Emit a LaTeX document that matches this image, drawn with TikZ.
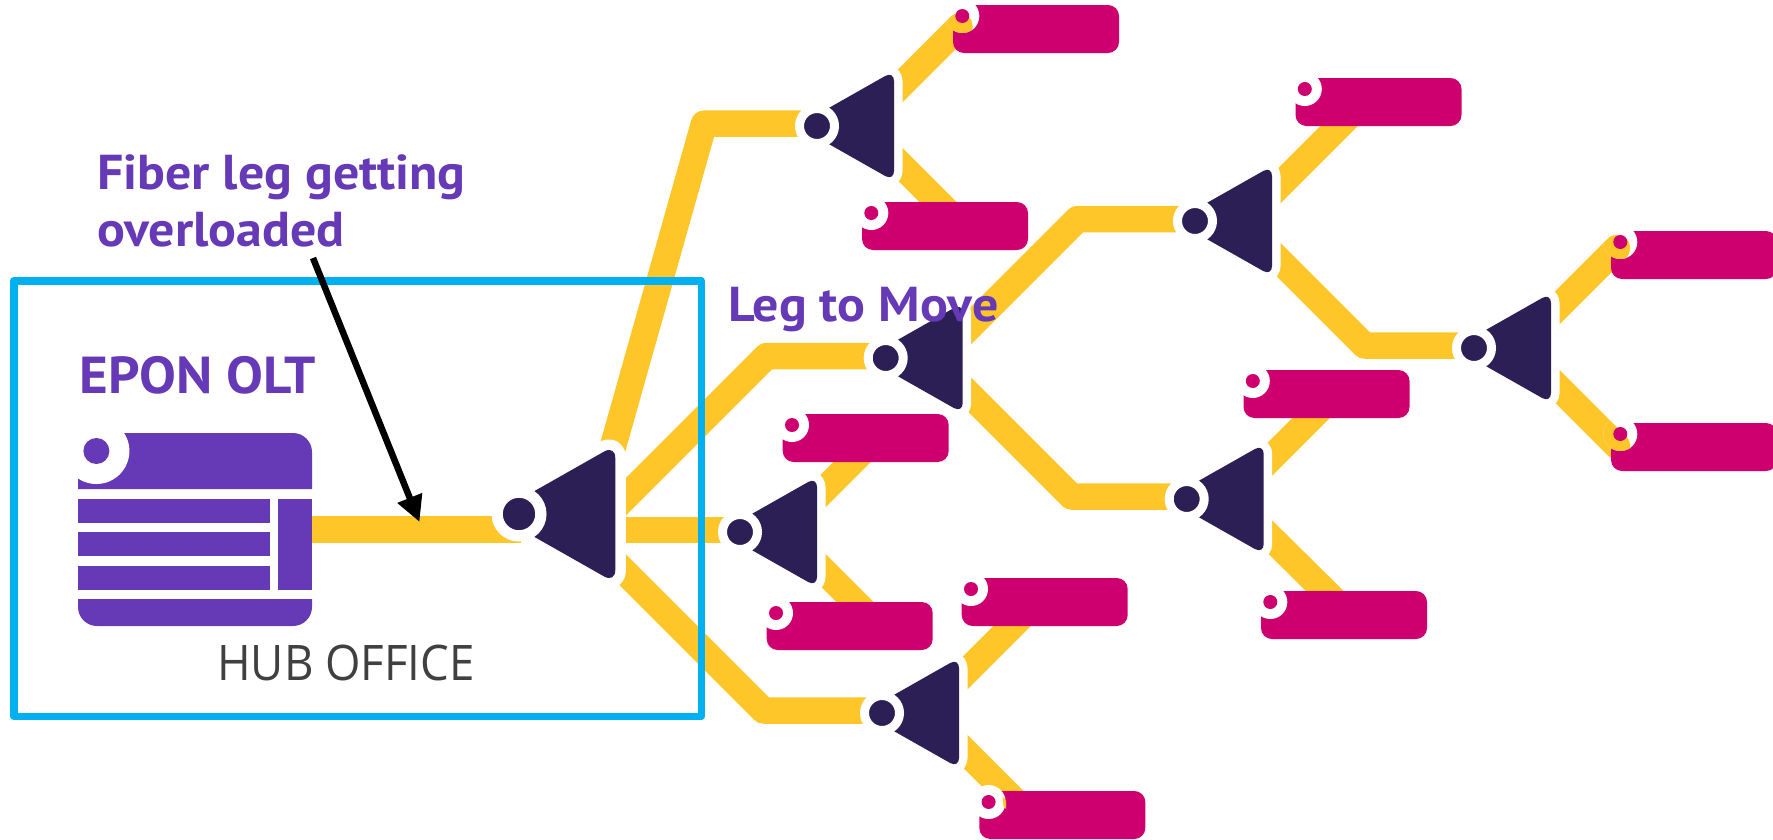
\documentclass[tikz,border=0pt]{standalone}
\usepackage{fontspec}
\usetikzlibrary{arrows.meta,backgrounds}
\setmainfont{PT Sans}
\newfontfamily\labelfont[FakeStretch=1.06]{PT Sans}
\newfontfamily\hubfont[FakeStretch=0.93]{Open Sans}
\definecolor{fiberc}{HTML}{FFC629}
\definecolor{darkc}{HTML}{2C1F56}
\definecolor{pinkc}{HTML}{CE0070}
\definecolor{purpc}{HTML}{6639B7}
\definecolor{bluec}{HTML}{00B0F0}
\definecolor{greyc}{HTML}{404040}
\tikzset{
  fiber/.style={draw=fiberc,line width=26.5pt,line join=round,line cap=round},
  oltbar/.style={fill=purpc},
  purplabel/.style={inner sep=0pt,outer sep=0pt,anchor=base west,text=purpc,font=\labelfont\bfseries\fontsize{49}{49}\selectfont},
  onticon/.style={fill=pinkc,rounded corners=11pt,minimum width=166pt,minimum height=48pt,inner sep=0pt,outer sep=0pt,anchor=north west},
  ontring/.style={circle,fill=white,minimum size=34pt,inner sep=0pt,outer sep=0pt},
  ontdot/.style={circle,fill=pinkc,minimum size=14pt,inner sep=0pt,outer sep=0pt},
}
% name, x, y, scale
\newcommand{\splitter}[4]{%
  \begin{scope}[shift={(#2,#3)},scale=#4]
    \draw[white,line width=#4*17pt,line join=round,rounded corners=#4*10pt] (0,-11.3) -- (77,-55) -- (77,55) -- (0,11.3) -- cycle;
    \fill[darkc,rounded corners=#4*10pt] (-20,0) -- (77,-55) -- (77,55) -- cycle;
    \node[circle,fill=darkc,draw=white,line width=#4*9pt,minimum size=#4*35pt,inner sep=0pt] (#1) at (0,0) {};
  \end{scope}}
% name, x, y, material drawn between ring and dot
\newcommand{\ont}[4]{%
  \node[onticon] (#1) at (#2,#3) {};
  \node[ontring] (#1r) at (#2+9.3,#3+11) {};
  #4
  \node[ontdot] (#1d) at (#1r.center) {};}
\newcommand{\fiberend}[4]{% ring centre x,y ; from ; to
  \begin{scope}\clip (#1,#2) circle (17);\draw[fiber] (#3) -- (#4);\end{scope}}
\begin{document}
\begin{tikzpicture}[x=1pt,y=-1pt]
\useasboundingbox (0,0) rectangle (1773,839);
% connector way-points
\coordinate (oltport) at (312,529.5);
\coordinate (s0in) at (521,529.5);
\coordinate (s0a) at (600.7,490);
\coordinate (s1b) at (704,123.7);
\coordinate (s0b) at (610,512.5);
\coordinate (s2b) at (766.5,356);
\coordinate (s0c) at (600,530);
\coordinate (s0d) at (600,547);
\coordinate (s4b) at (763.5,710.5);
\coordinate (s1u) at (880,106);
\coordinate (s1d) at (880,144);
\coordinate (aend) at (959.5,26.5);
\coordinate (bend) at (960,224);
\coordinate (s2u) at (950,346.5);
\coordinate (s5b) at (1077.5,219);
\coordinate (s2d) at (950,375);
\coordinate (s6b) at (1071.5,496.5);
\coordinate (s3u) at (805,509);
\coordinate (s3d) at (800,547);
\coordinate (hend) at (860,454);
\coordinate (iend) at (880,627);
\coordinate (s4u) at (950,688);
\coordinate (s4d) at (945,731);
\coordinate (jend) at (1020,618);
\coordinate (kend) at (1020,806);
\coordinate (s5u) at (1265,200);
\coordinate (s5d) at (1260,241);
\coordinate (cend) at (1355,110);
\coordinate (s7b) at (1364.5,345.5);
\coordinate (s6u) at (1250,479);
\coordinate (s6d) at (1250,517);
\coordinate (fend) at (1330,399);
\coordinate (gend) at (1340,606);
\coordinate (s7u) at (1540,325);
\coordinate (s7d) at (1540,369);
\coordinate (dend) at (1617,248);
\coordinate (eend) at (1617,446);
% OLT
\fill[oltbar] (78,489) -- (78,433) [rounded corners=19pt] -- (312,433) [sharp corners] -- (312,489) -- cycle;
\fill[oltbar] (78,499) rectangle (269.5,523);
\fill[oltbar] (78,532) rectangle (269.5,556);
\fill[oltbar] (78,566) rectangle (269.5,590);
\fill[oltbar] (278,499) rectangle (312,590);
\fill[oltbar] (78,599) [rounded corners=19pt] -- (78,626) -- (312,626) [sharp corners] -- (312,599) -- cycle;
\node[circle,fill=white,minimum size=66pt,inner sep=0pt,outer sep=0pt] (oltring) at (96.4,451) {};
\node[circle,fill=purpc,minimum size=26pt,inner sep=0pt,outer sep=0pt] (oltdot) at (oltring.center) {};
% ONTs
\ont{a}{953}{5}{\fiberend{962.3}{16}{s1u}{aend}}
\ont{b}{862}{202}{}
\ont{c}{1295.5}{78}{}
\ont{d}{1611}{231}{\fiberend{1620.3}{242}{s7u}{dend}}
\ont{e}{1611}{423}{\fiberend{1620.3}{434}{s7d}{eend}}
\ont{f}{1243.5}{370}{}
\ont{g}{1261}{591}{}
\ont{h}{782.7}{414}{}
\ont{i}{766.7}{602}{}
\ont{j}{961.7}{578}{}
\ont{k}{979.3}{791}{\fill[fiberc] (1002.5,796) -- (1006,801) -- (1006,809) -- (1003.5,806) -- cycle;}
% splitters
\splitter{s0}{519}{514}{1.25}
\splitter{s1}{817}{126}{1}
\splitter{s2}{885.7}{358}{1}
\splitter{s3}{740}{532}{1}
\splitter{s4}{882}{713}{1}
\splitter{s5}{1195}{221}{1}
\splitter{s6}{1186.7}{499}{1}
\splitter{s7}{1474}{348}{1}
\begin{pgfonlayer}{background}
  \draw[fiber,line cap=butt] (oltport) -- (s0in);
  \draw[fiber] (s0a) -- (s1b) -- (s1b -| s1);
  \draw[fiber] (s0b) -- (s2b) -- (s2b -| s2);
  \draw[fiber] (s0c) -- (s0c -| s3);
  \draw[fiber] (s0d) -- (s4b) -- (s4b -| s4);
  \draw[fiber] (s1u) -- (aend);
  \draw[fiber] (s1d) -- (bend);
  \draw[fiber] (s2u) -- (s5b) -- (s5b -| s5);
  \draw[fiber] (s2d) -- (s6b) -- (s6b -| s6);
  \draw[fiber] (s3u) -- (hend);
  \draw[fiber] (s3d) -- (iend);
  \draw[fiber] (s4u) -- (jend);
  \draw[fiber] (s4d) -- (kend);
  \draw[fiber] (s5u) -- (cend);
  \draw[fiber] (s5d) -- (s7b) -- (s7b -| s7);
  \draw[fiber] (s6u) -- (fend);
  \draw[fiber] (s6d) -- (gend);
  \draw[fiber] (s7u) -- (dend);
  \draw[fiber] (s7d) -- (eend);
  \node[draw=bluec,line width=7.5pt,line join=round,minimum width=687.5pt,minimum height=435.5pt,inner sep=0pt] (hub) at (357.5,498.5) {};
\end{pgfonlayer}
% labels
\node[purplabel] (l1) at (97,189) {Fiber leg getting};
\node[purplabel] (l2) at (97,246.5) {overloaded};
\node[purplabel] (l3) at (728,321) {Leg to Move};
\node[purplabel,font=\labelfont\bfseries\fontsize{52}{52}\selectfont] (l4) at (79.5,393) {EPON OLT};
\node[inner sep=0pt,outer sep=0pt,anchor=base,text=greyc,font=\hubfont\fontsize{49}{49}\selectfont] (l5) at (346,680) {HUB OFFICE};
% arrow
\coordinate (atail) at (313,258);
\coordinate (atip) at (419.5,522);
\draw[black,line width=6.5pt,-{Triangle[length=26pt,width=25pt]}] (atail) -- (atip);
\end{tikzpicture}
\end{document}
